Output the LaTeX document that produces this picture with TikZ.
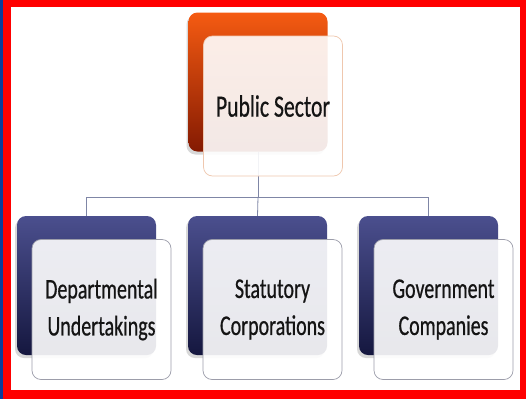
\documentclass[tikz,border=0pt]{standalone}
\usepackage{fontspec}
\setmainfont{Carlito}[FakeStretch=0.70, FakeBold=0.6]
\usepackage{tikz}
\usetikzlibrary{shapes.geometric, arrows, positioning, shadows, backgrounds}
\definecolor{orangetop}{HTML}{F55B12}
\definecolor{orangebot}{HTML}{841A02}
\definecolor{navytop}{HTML}{4B4F8E}
\definecolor{navybot}{HTML}{15173F}
\definecolor{pinkline}{HTML}{EFC7AE}
\definecolor{grayline}{HTML}{9C9DAA}
\definecolor{busline}{HTML}{7F86A6}
\definecolor{framered}{HTML}{FF0000}
\definecolor{frameblue}{HTML}{0B3C9A}
\tikzstyle{backbox} = [rectangle, rounded corners=9pt, minimum width=139pt, minimum height=139pt, inner sep=0pt, drop shadow={opacity=0.3, shadow xshift=-2pt, shadow yshift=-3pt}]
\tikzstyle{orangebox} = [backbox, top color=orangetop, bottom color=orangebot]
\tikzstyle{navybox} = [backbox, top color=navytop, bottom color=navybot]
\tikzstyle{frontbox} = [rectangle, rounded corners=9pt, minimum width=139pt, minimum height=140pt, inner sep=0pt, align=center, fill=white, fill opacity=0.9, text opacity=1, line width=0.7pt, text=black!92, xshift=15pt, yshift=-24pt]
\tikzstyle{toptext} = [font=\fontsize{31}{36}\selectfont]
\tikzstyle{subtext} = [font=\fontsize{28.5}{37}\selectfont]
\tikzstyle{line} = [draw=busline, line width=0.8pt]

\begin{document}
\begin{tikzpicture}[x=1pt, y=-1pt]
\useasboundingbox (0,0) rectangle (526,399);
\node (PS) [orangebox] at (258,82) {};
\node (PSf) [frontbox, draw=pinkline, toptext] at (PS) {Public Sector};

\node (DU) [navybox] at (86.5,285.5) {};
\node (DUf) [frontbox, draw=grayline, subtext] at (DU) {Departmental\\Undertakings};
\node (SC) [navybox] at (257.5,285.5) {};
\node (SCf) [frontbox, draw=grayline, subtext] at (SC) {Statutory\\Corporations};
\node (GC) [navybox] at (428.5,285.5) {};
\node (GCf) [frontbox, draw=grayline, subtext] at (GC) {Government\\Companies};

\coordinate (bus) at (258,197);
\begin{pgfonlayer}{background}
% frame
\fill[frameblue] (0,0) rectangle (526,399);
\fill[framered] (3,0) rectangle (526,399);
\fill[white] (11,7) rectangle (520,390);
% connectors
\draw [line] (PS.south) -- (bus);
\draw [line] (bus) -| (DU.north);
\draw [line] (bus) -- (SC.north);
\draw [line] (bus) -| (GC.north);
\end{pgfonlayer}
\end{tikzpicture}
\end{document}
